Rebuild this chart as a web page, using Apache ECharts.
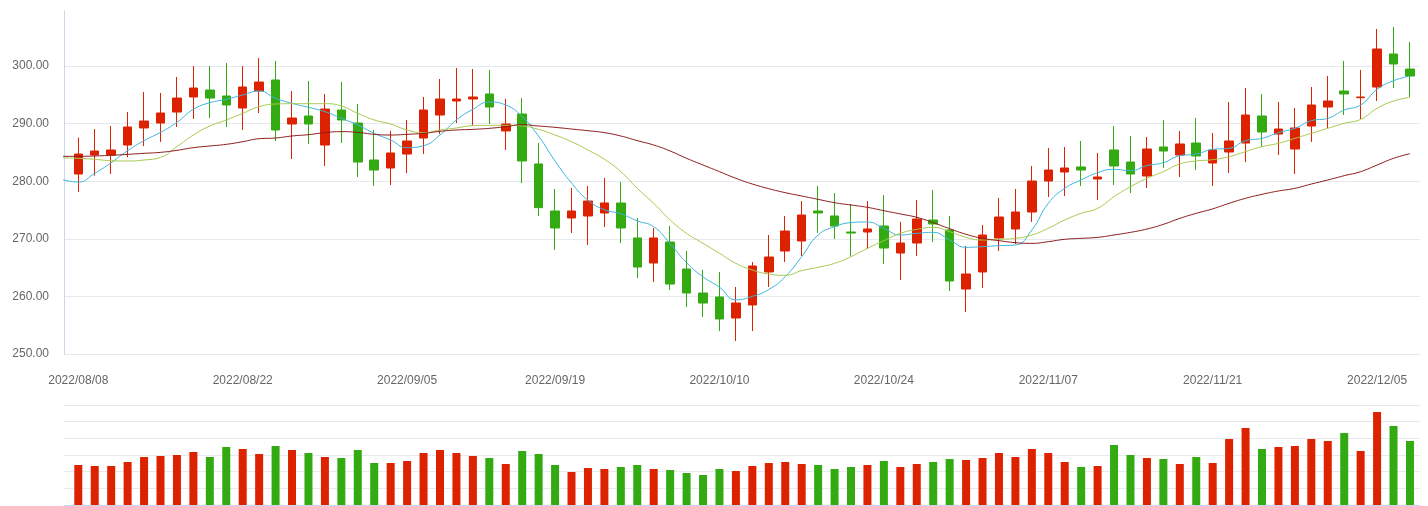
<!DOCTYPE html>
<html><head><meta charset="utf-8">
<script src="https://cdn.jsdelivr.net/npm/echarts@6/dist/echarts.min.js"></script>
<style>html,body{margin:0;padding:0;background:#fff}#c{width:1428px;height:506px}</style>
</head><body><div id="c"></div>
<script>
// First entry (2022/08/05) lies just left of the visible window: only its MA values reach the plot edge.
const dates = ['2022/08/05',
'2022/08/08','2022/08/09','2022/08/10','2022/08/11','2022/08/12','2022/08/15','2022/08/16','2022/08/17','2022/08/18','2022/08/19',
'2022/08/22','2022/08/23','2022/08/24','2022/08/25','2022/08/26','2022/08/29','2022/08/30','2022/08/31','2022/09/01','2022/09/02',
'2022/09/05','2022/09/06','2022/09/07','2022/09/08','2022/09/09','2022/09/13','2022/09/14','2022/09/15','2022/09/16',
'2022/09/19','2022/09/20','2022/09/21','2022/09/22','2022/09/23','2022/09/26','2022/09/27','2022/09/28','2022/09/29','2022/09/30',
'2022/10/10','2022/10/11','2022/10/12','2022/10/13','2022/10/14','2022/10/17','2022/10/18','2022/10/19','2022/10/20','2022/10/21',
'2022/10/24','2022/10/25','2022/10/26','2022/10/27','2022/10/28','2022/10/31','2022/11/01','2022/11/02','2022/11/03','2022/11/04',
'2022/11/07','2022/11/08','2022/11/09','2022/11/10','2022/11/11','2022/11/14','2022/11/15','2022/11/16','2022/11/17','2022/11/18',
'2022/11/21','2022/11/22','2022/11/23','2022/11/24','2022/11/25','2022/11/28','2022/11/29','2022/11/30','2022/12/01','2022/12/02',
'2022/12/05','2022/12/06','2022/12/07'];
const tickDates = ['2022/08/08','2022/08/22','2022/09/05','2022/09/19','2022/10/10','2022/10/24','2022/11/07','2022/11/21','2022/12/05'];
const openP = ['-',281.25,284.55,284.55,286.28,289.24,290.10,292.01,294.62,295.83,294.79,
292.71,295.66,297.57,289.93,291.32,286.28,292.36,290.10,283.68,282.29,
284.72,287.50,291.49,293.92,294.27,295.14,288.72,291.67,282.99,274.83,
273.61,273.96,274.48,276.22,270.14,265.80,269.44,264.76,260.59,259.90,
256.25,258.51,264.24,267.88,269.62,274.83,273.96,271.18,271.18,272.22,
267.53,269.27,273.26,271.53,261.28,264.24,270.14,271.70,274.65,280.03,
281.60,282.47,280.38,285.42,283.33,280.90,285.94,284.55,286.63,283.16,
285.07,286.63,291.32,288.19,285.59,289.58,292.88,295.66,294.50,296.35,
302.08,299.48];
const closeP = ['-',284.72,285.24,285.42,289.41,290.45,291.84,294.44,296.18,294.44,293.23,
296.35,297.22,288.89,290.97,289.93,292.53,290.63,283.33,281.94,284.90,
286.98,292.36,294.27,294.27,294.62,292.88,289.93,283.51,275.41,271.88,
274.83,276.56,276.22,271.88,265.10,270.14,262.15,260.59,258.85,256.08,
258.85,265.28,266.84,271.35,274.13,274.48,272.22,271.00,271.70,268.40,
269.27,273.44,272.57,262.67,263.89,270.66,273.78,274.65,280.03,281.94,
282.29,281.94,280.73,282.64,281.25,285.59,285.24,286.46,284.38,285.42,
286.98,291.49,288.54,289.06,289.24,293.23,293.92,295.14,294.62,302.95,
300.35,298.26];
const lowP = ['-',278.13,280.96,281.25,284.14,286.11,286.81,289.41,290.80,290.97,289.41,
288.89,291.84,286.98,283.85,286.46,282.64,286.63,280.73,279.17,279.34,
281.42,284.72,288.19,290.10,289.76,289.93,285.42,279.69,273.96,268.06,
271.01,268.92,272.05,269.27,263.19,262.50,261.11,258.16,256.42,253.99,
252.26,253.99,261.63,265.97,267.01,271.01,269.97,267.01,268.23,265.63,
262.85,267.01,269.44,260.94,257.29,261.46,267.88,269.10,272.92,277.26,
277.43,279.17,276.74,279.34,277.95,278.82,282.29,280.73,281.94,279.17,
281.42,283.33,285.94,284.55,281.25,286.81,289.24,291.49,290.80,293.92,
296.18,294.62];
const highP = ['-',287.56,289.06,289.58,292.01,295.49,295.31,298.09,300.00,300.00,300.52,
300.00,301.39,300.87,295.66,297.40,295.14,297.22,293.40,288.89,288.72,
290.63,294.62,297.74,299.65,299.48,299.31,294.27,294.44,286.63,278.65,
278.82,279.17,280.56,279.86,273.61,271.88,272.22,267.88,264.58,264.24,
261.63,265.97,270.66,273.96,276.56,279.17,277.95,276.04,276.56,277.60,
272.92,276.74,278.47,273.96,268.75,272.40,277.08,278.65,282.64,285.76,
285.94,286.98,284.90,289.58,287.85,287.67,290.63,288.72,290.97,288.37,
293.75,296.18,295.14,293.75,292.71,296.35,298.26,300.87,299.31,306.42,
306.77,304.17];
const volume = ['-',24.0,23.4,23.4,25.8,28.8,29.4,30.0,31.8,28.8,34.8,
33.6,30.6,35.4,33.0,31.2,28.8,28.2,33.0,25.2,25.2,
26.4,31.2,33.0,31.2,29.4,28.2,24.6,32.4,30.6,24.0,
19.8,22.2,21.6,22.8,24.0,21.6,21.0,19.2,18.0,21.6,
20.4,23.4,25.2,25.8,24.6,24.0,21.6,22.8,24.0,26.4,
22.8,24.6,25.8,27.6,27.0,28.2,31.2,28.8,33.6,31.2,
25.8,22.8,23.4,36.0,30.0,28.2,27.6,24.6,28.8,25.2,
39.6,46.2,33.6,34.8,35.4,39.6,38.4,43.2,32.4,55.8,
47.4,38.4];
const ma5 = [280.30,279.86,281.37,283.22,285.30,287.04,288.48,290.22,292.48,293.63,294.21,
294.97,295.66,294.39,293.52,292.82,292.07,290.91,289.76,288.31,287.15,
285.82,286.17,288.02,290.63,292.48,293.75,293.23,291.20,287.80,283.50,
279.70,276.70,275.05,274.35,273.10,272.10,269.15,265.85,263.40,261.60,
259.40,260.00,261.20,263.43,266.90,270.66,272.11,272.80,272.92,271.82,
270.66,270.95,271.12,269.79,268.52,268.63,268.81,268.92,271.53,276.16,
278.76,280.21,281.48,282.06,281.83,282.70,283.22,284.43,284.72,285.53,
285.71,287.04,287.44,288.43,289.18,290.51,290.91,292.36,293.23,295.95,
297.45,298.26];
const ma10 = [284.05,283.97,283.80,283.56,283.51,283.68,284.14,286.00,288.02,289.58,290.63,
291.78,292.94,293.40,293.46,293.46,293.46,293.06,291.78,290.63,289.93,
288.89,288.43,288.89,289.24,289.64,289.70,289.70,289.58,289.00,288.02,
286.86,285.42,283.80,281.66,278.76,276.16,273.26,270.95,269.21,267.48,
265.74,264.58,263.89,263.66,264.47,265.05,265.74,266.90,268.34,269.68,
270.95,271.64,271.99,271.24,270.25,269.79,269.91,270.08,270.66,271.82,
273.26,274.42,275.29,277.31,279.05,280.50,281.66,282.99,283.51,283.74,
284.26,285.13,286.00,286.57,287.44,288.31,289.18,290.05,290.74,292.65,
293.92,294.56];
const ma30 = [284.32,284.32,284.38,284.49,284.66,284.84,285.01,285.36,285.82,286.11,286.40,
286.86,287.38,287.50,287.85,288.08,288.43,288.60,288.48,288.14,288.02,
288.14,288.31,288.66,288.89,289.00,289.18,289.47,289.81,289.58,289.35,
289.06,288.77,288.43,287.85,287.04,286.28,285.24,283.97,282.81,281.66,
280.50,279.51,278.70,278.01,277.43,276.85,276.27,275.87,275.46,274.88,
274.31,273.73,272.80,271.76,270.78,270.08,269.68,269.33,269.21,269.50,
269.91,270.08,270.25,270.66,271.12,271.70,272.51,273.55,274.42,275.20,
276.16,277.03,277.72,278.30,278.76,279.51,280.21,280.96,281.66,282.81,
283.97,284.78];

const UP = '#dd2200', DOWN = '#33aa11';
const n = dates.length;
const xMin = 0.13, xMax = n - 1 + 0.61;
const tickIdx = tickDates.map(d => dates.indexOf(d));
const candleData = dates.map((d, i) => [i, openP[i], closeP[i], lowP[i], highP[i]]);
const volData = volume.map((v, i) => ({ value: [i, v], itemStyle: { color: closeP[i] >= openP[i] ? UP : DOWN } }));
const toLine = arr => arr.map((v, i) => [i, v]);

const chart = echarts.init(document.getElementById('c'));
chart.setOption({
  animation: false,
  backgroundColor: '#fff',
  grid: [
    { left: 64, right: 8, top: 11, height: 343 },
    { left: 64, right: 8, top: 405, height: 100 }
  ],
  xAxis: [
    { type: 'value', gridIndex: 0, min: xMin, max: xMax,
      splitLine: { show: false }, axisLine: { show: false, onZero: false }, axisTick: { show: false },
      axisLabel: { customValues: tickIdx, formatter: v => dates[Math.round(v)] || '', color: '#666', fontSize: 12, margin: 21 } },
    { type: 'value', gridIndex: 1, min: xMin, max: xMax,
      splitLine: { show: false }, axisLine: { show: true, onZero: false, lineStyle: { color: '#ccd6eb' } },
      axisTick: { show: false }, axisLabel: { show: false } }
  ],
  yAxis: [
    { type: 'value', gridIndex: 0, min: 250, max: 309.55, interval: 10,
      axisLine: { show: true, onZero: false, lineStyle: { color: '#ccd6eb' } }, axisTick: { show: false },
      splitLine: { show: true, showMaxLine: false, lineStyle: { color: '#e6e9f0' } },
      axisLabel: { showMaxLabel: false, formatter: v => v.toFixed(2), color: '#666', fontSize: 12, margin: 15 } },
    { type: 'value', gridIndex: 1, min: 0, max: 60, interval: 10,
      axisLine: { show: false, onZero: false }, axisTick: { show: false }, axisLabel: { show: false },
      splitLine: { show: true, lineStyle: { color: '#e6e9f0' } } }
  ],
  series: [
    { type: 'candlestick', xAxisIndex: 0, yAxisIndex: 0, data: candleData, barWidth: 9,
      itemStyle: { color: UP, color0: DOWN, borderColor: UP, borderColor0: DOWN, borderWidth: 1 } },
    { type: 'line', name: 'MA5', xAxisIndex: 0, yAxisIndex: 0, data: toLine(ma5), smooth: true, showSymbol: false, z: 5,
      lineStyle: { width: 1, color: '#3cb4dc' } },
    { type: 'line', name: 'MA10', xAxisIndex: 0, yAxisIndex: 0, data: toLine(ma10), smooth: true, showSymbol: false, z: 5,
      lineStyle: { width: 1, color: '#a6c84c' } },
    { type: 'line', name: 'MA30', xAxisIndex: 0, yAxisIndex: 0, data: toLine(ma30), smooth: true, showSymbol: false, z: 5,
      lineStyle: { width: 1, color: '#8b1a1a' } },
    { type: 'bar', xAxisIndex: 1, yAxisIndex: 1, data: volData, barWidth: 8 }
  ]
});
</script>
</body></html>
